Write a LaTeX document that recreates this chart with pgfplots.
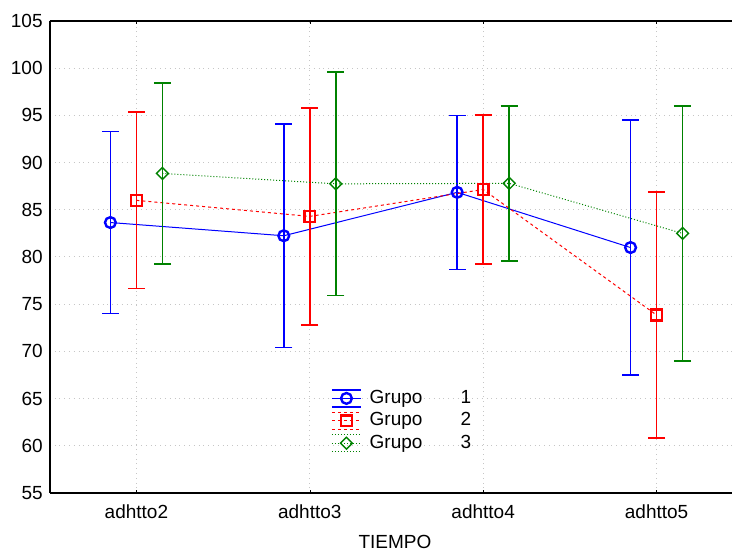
\documentclass[border=0pt]{standalone}
\usepackage{fontspec}
\setmainfont{Liberation Sans}
\usepackage{pgfplots}
\pgfplotsset{compat=1.18}
\usetikzlibrary{calc}
\definecolor{gblue}{RGB}{0,0,255}
\definecolor{gred}{RGB}{255,0,0}
\definecolor{ggreen}{RGB}{0,130,0}

% x, mean, half-width of the interval
\pgfplotstableread{
x y e
0.85 83.65 9.65
1.85 82.25 11.85
2.85 86.85 8.15
3.85 81.00 13.50
}\grupoA
\pgfplotstableread{
x y e
1 86.00 9.35
2 84.30 11.50
3 87.15 7.90
4 73.85 13.05
}\grupoB
\pgfplotstableread{
x y e
1.15 88.85 9.60
2.15 87.75 11.85
3.15 87.80 8.20
4.15 82.50 13.50
}\grupoC

\pgfplotsset{errleg/.style n args={4}{legend image code/.code={%
  \draw[#1,#2,line width=0.5pt] (0pt,0pt)--(14.5pt,0pt);
  \draw[#1,line width=0.75pt] (0pt,4.25pt)--(14.5pt,4.25pt) (0pt,-4.25pt)--(14.5pt,-4.25pt);
  \draw[#1] plot[mark=#3,mark options={solid,fill=white,#4}] coordinates {(7.25pt,0pt)};
}}}

\begin{document}
\begin{tikzpicture}
\begin{axis}[
  scale only axis, width=341.15pt, height=236pt,
  font=\fontsize{9.5}{11}\selectfont,
  /pgf/number format/assume math mode=true,
  xmin=0.5, xmax=4.435, ymin=55, ymax=105,
  axis x line=box, axis y line=left, y axis line style={-},
  axis line style={line width=0.8pt},
  xtick={1,2,3,4}, xticklabels={adhtto2,adhtto3,adhtto4,adhtto5},
  ytick={55,60,...,105},
  grid=major, grid style={dotted, gray!45, line width=0.5pt},
  major tick length=1.5pt, tick align=inside, tick style={black},
  ytick style={draw=none},
  xticklabel style={anchor=center, yshift=-9.6pt},
  xlabel={TIEMPO},
  xlabel style={at={(axis description cs:0.506,0)}, anchor=center, inner sep=0pt, yshift=-24.3pt},
  legend style={at={(axis description cs:0.412,0.2246)}, anchor=north west,
    draw=none, fill=none, inner sep=0pt, row sep=0.2pt,
    nodes={inner sep=1pt, text height=7pt, text depth=2pt}},
  legend cell align=left,
]
\addplot[gblue, line width=0.5pt, mark=o, mark size=2.7pt,
  mark options={solid, line width=1.2pt, fill=white},
  errleg={gblue}{solid}{o}{mark size=2.7pt,line width=1.2pt},
  error bars/.cd, y dir=both, y explicit,
  error bar style={line width=0.75pt, solid},
  error mark options={mark size=4.3pt, line width=0.75pt, rotate=90}]
  table[x=x, y=y, y error=e] {\grupoA};
\addlegendentry{\hspace{3pt}Grupo\hspace{19pt}1}
\addplot[gred, line width=0.5pt, dash pattern=on 1.5pt off 1.5pt, mark=square, mark size=2.7pt,
  mark options={solid, line width=1.2pt, fill=white},
  errleg={gred}{dash pattern=on 1.5pt off 1.5pt}{square}{mark size=2.7pt,line width=1.2pt},
  error bars/.cd, y dir=both, y explicit,
  error bar style={line width=0.75pt, solid},
  error mark options={mark size=4.3pt, line width=0.75pt, rotate=90}]
  table[x=x, y=y, y error=e] {\grupoB};
\addlegendentry{\hspace{3pt}Grupo\hspace{19pt}2}
\addplot[ggreen, line width=0.5pt, dash pattern=on 0.5pt off 1pt, mark=square, mark size=2.1pt,
  mark options={solid, line width=0.7pt, fill=white, rotate=45},
  errleg={ggreen}{dash pattern=on 0.5pt off 1pt}{square}{mark size=2.1pt,line width=0.7pt,rotate=45},
  error bars/.cd, y dir=both, y explicit,
  error bar style={line width=0.75pt, solid},
  error mark options={mark size=4.3pt, line width=0.75pt, rotate=90}]
  table[x=x, y=y, y error=e] {\grupoC};
\addlegendentry{\hspace{3pt}Grupo\hspace{19pt}3}
\end{axis}
\pgfresetboundingbox
\path ($(current axis.south west)+(-24.85pt,-28.5pt)$) rectangle ($(current axis.north east)+(0pt,10.5pt)$);
\end{tikzpicture}
\end{document}
